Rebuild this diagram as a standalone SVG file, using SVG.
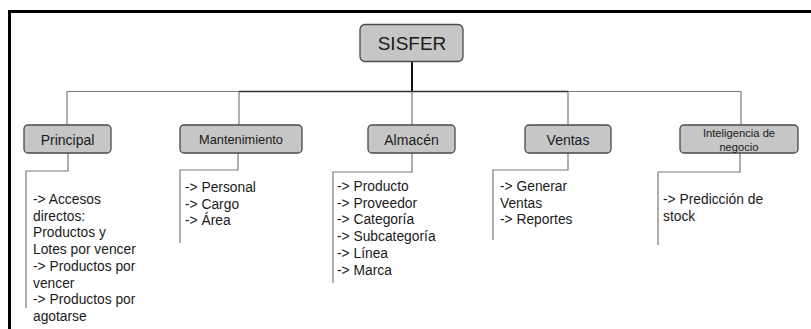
<svg xmlns="http://www.w3.org/2000/svg" width="811" height="329" viewBox="0 0 811 329">
<style>
.box{fill:#c6c6c6;stroke:#4a4a4a;stroke-width:1.3}
.lbl{font-family:"Liberation Sans",Arial,sans-serif;fill:#1a1a1a;text-anchor:middle}
.lst{font-family:"Liberation Sans",Arial,sans-serif;fill:#1a1a1a;font-size:13.8px}
.c{fill:none;stroke:#7a7a7a;stroke-width:1.2}
.cd{fill:none;stroke:#333;stroke-width:1.6}
</style>
<rect width="811" height="329" fill="#fff"/>
<path d="M9.5 329 V11.5 H811" fill="none" stroke="#000" stroke-width="3"/>
<g id="connectors">
<path class="c" d="M67 91.5 H239 M568 91.5 H741"/>
<path class="cd" d="M239 91.5 H568"/>
<path d="M412 62 V91.5" stroke="#111" stroke-width="2"/>
<path class="c" d="M67 91.5 V125 M239 91.5 V125 M412 91.5 V125 M568 91.5 V125 M741 91.5 V125"/>
<path class="c" d="M68 153 V171 H26 V308"/>
<path class="c" d="M238 153 V170 H180 V243"/>
<path class="c" d="M412 153 V172 H333 V283"/>
<path class="c" d="M568 153 V170 H493 V240"/>
<path class="c" d="M740 153 V172 H658 V245"/>
</g>
<g id="sisfer">
<rect class="box" x="360" y="24.5" width="103" height="37" rx="5"/>
<text class="lbl" x="412" y="50" font-size="19">SISFER</text>
</g>
<g id="principal">
<rect class="box" x="24" y="125" width="87" height="28" rx="4"/>
<text class="lbl" x="67.5" y="145" font-size="14">Principal</text>
<text class="lst" x="33" y="204">-&gt; Accesos</text>
<text class="lst" x="33" y="220.7">directos:</text>
<text class="lst" x="33" y="237.4">Productos y</text>
<text class="lst" x="33" y="254.1">Lotes por vencer</text>
<text class="lst" x="33" y="270.8">-&gt; Productos por</text>
<text class="lst" x="33" y="287.5">vencer</text>
<text class="lst" x="33" y="304.2">-&gt; Productos por</text>
<text class="lst" x="33" y="320.9">agotarse</text>
</g>
<g id="mantenimiento">
<rect class="box" x="180" y="125" width="122" height="28" rx="4"/>
<text class="lbl" x="241" y="144" font-size="12.8">Mantenimiento</text>
<text class="lst" x="185" y="192">-&gt; Personal</text>
<text class="lst" x="185" y="208.7">-&gt; Cargo</text>
<text class="lst" x="185" y="225.4">-&gt; Área</text>
</g>
<g id="almacen">
<rect class="box" x="368" y="125" width="87" height="28" rx="4"/>
<text class="lbl" x="411.5" y="145" font-size="14">Almacén</text>
<text class="lst" x="337" y="191">-&gt; Producto</text>
<text class="lst" x="337" y="207.7">-&gt; Proveedor</text>
<text class="lst" x="337" y="224.4">-&gt; Categoría</text>
<text class="lst" x="337" y="241.1">-&gt; Subcategoría</text>
<text class="lst" x="337" y="257.8">-&gt; Línea</text>
<text class="lst" x="337" y="274.5">-&gt; Marca</text>
</g>
<g id="ventas">
<rect class="box" x="525" y="125" width="86" height="28" rx="4"/>
<text class="lbl" x="568" y="145" font-size="14">Ventas</text>
<text class="lst" x="500" y="191">-&gt; Generar</text>
<text class="lst" x="500" y="207.7">Ventas</text>
<text class="lst" x="500" y="224.4">-&gt; Reportes</text>
</g>
<g id="inteligencia">
<rect class="box" x="680" y="125" width="118" height="28" rx="4"/>
<text class="lbl" x="739" y="137" font-size="11.2">Inteligencia de</text>
<text class="lbl" x="739" y="150.5" font-size="11.2">negocio</text>
<text class="lst" x="663" y="204">-&gt; Predicción de</text>
<text class="lst" x="663" y="220.7">stock</text>
</g>
</svg>
